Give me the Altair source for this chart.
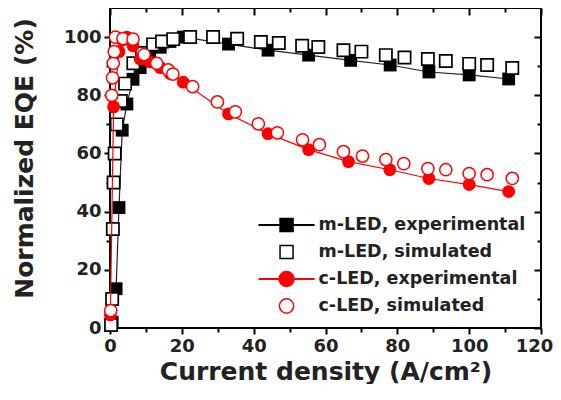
import altair as alt
import pandas as pd

# ---------------- data ----------------
m_exp_x = [0.6, 1.7, 2.5, 3.4, 4.7, 6.4, 8.4, 11.0, 14.0, 16.7, 20.4, 33.0, 44.0, 55.3, 67.0, 78.0, 88.8, 100.0, 111.0]
m_exp_y = [2.0, 13.5, 41.4, 68.0, 77.0, 85.5, 89.5, 93.0, 96.5, 98.5, 100.0, 97.6, 95.5, 93.8, 92.0, 90.4, 88.0, 87.0, 85.6]

m_sim_x = [0.3, 0.6, 0.8, 1.0, 1.3, 1.9, 3.0, 4.2, 6.5, 8.9, 12.0, 14.5, 17.6, 22.3, 28.7, 35.4, 42.0, 47.0, 53.5, 58.0, 65.0, 70.0, 76.8, 82.0, 88.5, 93.5, 100.0, 105.0, 112.0]
m_sim_y = [1.0, 10.0, 34.0, 50.0, 60.0, 70.0, 78.0, 84.0, 91.0, 94.5, 97.5, 98.5, 99.3, 100.0, 100.0, 99.4, 98.3, 98.0, 97.0, 96.6, 95.5, 95.0, 93.8, 93.0, 92.5, 91.8, 90.8, 90.4, 89.4]

c_exp_x = [0.1, 1.0, 2.5, 3.4, 4.7, 6.4, 8.4, 11.0, 14.0, 16.7, 20.4, 33.0, 44.0, 55.3, 66.4, 77.9, 88.8, 100.0, 111.0]
c_exp_y = [4.5, 76.0, 95.0, 99.0, 100.0, 97.0, 92.5, 91.5, 89.5, 87.5, 84.5, 73.6, 66.8, 61.3, 57.2, 54.4, 51.4, 49.3, 46.9]

c_sim_x = [0.2, 0.5, 0.7, 0.9, 1.2, 1.5, 3.6, 6.4, 9.5, 13.0, 16.2, 17.5, 23.0, 29.9, 34.9, 41.3, 46.6, 53.6, 58.3, 65.0, 70.3, 76.8, 81.8, 88.5, 93.5, 100.0, 105.0, 112.0]
c_sim_y = [6.0, 80.0, 86.0, 91.0, 95.0, 100.0, 99.5, 99.3, 94.0, 91.0, 88.7, 87.3, 83.0, 77.7, 74.3, 70.2, 67.1, 64.7, 63.0, 60.6, 59.1, 57.9, 56.5, 54.8, 54.4, 53.1, 52.7, 51.4]

series = ["m-LED, experimental", "m-LED, simulated", "c-LED, experimental", "c-LED, simulated"]

x_major = [0, 20, 40, 60, 80, 100, 120]
x_minor = [10, 30, 50, 70, 90, 110]
y_major = [0, 20, 40, 60, 80, 100]
y_minor = [10, 30, 50, 70, 90]

x_title = "Current density (A/cm\u00b2)"
y_title = "Normalized EQE (%)"

# ---------------- styling ----------------
FONT = "DejaVu Sans"
TXT = "#222222"
RED = "#ff0000"

def frame(xs, ys):
    return pd.DataFrame({"x": xs, "y": ys})

xscale = alt.Scale(domain=[0, 120], nice=False, zero=False)
yscale = alt.Scale(domain=[0, 110], nice=False, zero=False)

common_axis = dict(grid=False, domain=False, tickColor="black", tickWidth=2)
label_style = dict(labelFont=FONT, labelFontSize=18, labelFontWeight="bold", labelColor=TXT,
                   labelPadding=3, labelFlush=False)
title_style = dict(titleFont=FONT, titleFontSize=25, titleFontWeight="bold", titleColor=TXT)

def axis(**kw):
    d = dict(common_axis)
    d.update(kw)
    return alt.Axis(**d)

# bottom: labelled major (last label nudged inward to stay on the page), minor; top: inward ticks
ax_x_main = axis(orient="bottom", values=x_major[:-1], tickSize=6, titlePadding=24,
                 titleBaseline="alphabetic", **label_style, **title_style)
ax_x_last = axis(orient="bottom", values=x_major[-1:], tickSize=6, labelOffset=-7, **label_style)
ax_x_minor = axis(orient="bottom", values=x_minor, tickSize=4, labels=False)
ax_x_top = axis(orient="top", values=x_major, tickSize=7, offset=-7, labels=False)
ax_x_top_minor = axis(orient="top", values=x_minor, tickSize=4, offset=-4, labels=False)

ax_y_main = axis(orient="left", values=y_major, tickSize=6, titlePadding=26, titleY=150,
                 **label_style, **title_style)
ax_y_minor = axis(orient="left", values=y_minor, tickSize=4, labels=False)
ax_y_right = axis(orient="right", values=y_major, tickSize=7, offset=-7, labels=False)
ax_y_right_minor = axis(orient="right", values=y_minor, tickSize=4, offset=-4, labels=False)

def X(ax, title=None):
    return alt.X("x:Q", scale=xscale, axis=ax, title=title)

def Y(ax, title=None):
    return alt.Y("y:Q", scale=yscale, axis=ax, title=title)

# ---------------- layers ----------------
m_exp_line = alt.Chart(frame(m_exp_x, m_exp_y)).mark_line(color="#222222", strokeWidth=1.2).encode(
    x=X(ax_x_main, x_title), y=Y(ax_y_main, y_title))
m_exp_pts = alt.Chart(frame(m_exp_x, m_exp_y)).mark_point(
    shape="square", filled=True, color="black", size=165, opacity=1).encode(
    x=X(ax_x_minor), y=Y(ax_y_minor))
m_sim_pts = alt.Chart(frame(m_sim_x, m_sim_y)).mark_point(
    shape="square", filled=True, fill="white", stroke="black", strokeWidth=1.7, size=150, opacity=1).encode(
    x=X(ax_x_top), y=Y(ax_y_right))
c_exp_line = alt.Chart(frame(c_exp_x, c_exp_y)).mark_line(color=RED, strokeWidth=1.2).encode(
    x=X(ax_x_top_minor), y=Y(ax_y_right_minor))
c_exp_pts = alt.Chart(frame(c_exp_x, c_exp_y)).mark_point(
    shape="circle", filled=True, color=RED, size=165, opacity=1).encode(
    x=X(ax_x_last), y=Y(None))
c_sim_pts = alt.Chart(frame(c_sim_x, c_sim_y)).mark_point(
    shape="circle", filled=True, fill="white", stroke=RED, strokeWidth=1.5, size=150, opacity=1).encode(
    x=X(None), y=Y(None))

# legend-only layer (invisible points, visible legend symbols).
# Symbol paths: a line segment with the marker in its middle, kept at x >= -1 so that
# the legend entry clip does not cut them.
line_sq = "M-1,-0.03H7.4V0.03H-1Z M2.2,-1H4.2V1H2.2Z"
line_ci = "M-1,-0.03H7.4V0.03H-1Z M3.2,-1.15A1.15,1.15,0,1,1,3.2,1.15A1.15,1.15,0,1,1,3.2,-1.15Z"
open_sq = "M2.2,-1H4.2V1H2.2Z"
open_ci = "M3.2,-1.1A1.1,1.1,0,1,1,3.2,1.1A1.1,1.1,0,1,1,3.2,-1.1Z"

leg_df = pd.DataFrame({
    "series": series,
    "x": [m_exp_x[-1], m_sim_x[-1], c_exp_x[-1], c_sim_x[-1]],
    "y": [m_exp_y[-1], m_sim_y[-1], c_exp_y[-1], c_sim_y[-1]],
})

LEG = alt.Legend(title=None, orient="none", legendX=147, legendY=208, padding=0,
                 symbolSize=169, symbolStrokeWidth=1.5, symbolOpacity=1,
                 labelFont=FONT, labelFontSize=17.5, labelFontWeight="bold", labelColor=TXT,
                 labelOffset=44, labelLimit=400, rowPadding=9, clipHeight=18)

legend_layer = alt.Chart(leg_df).mark_point(size=169, opacity=0).encode(
    x=X(None), y=Y(None),
    shape=alt.Shape("series:N", scale=alt.Scale(domain=series, range=[line_sq, open_sq, line_ci, open_ci]), legend=LEG),
    fill=alt.Fill("series:N", scale=alt.Scale(domain=series, range=["black", "white", RED, "white"]), legend=LEG),
    stroke=alt.Stroke("series:N", scale=alt.Scale(domain=series, range=["black", "black", RED, RED]), legend=LEG),
)

chart = alt.layer(
    m_exp_line, m_exp_pts, m_sim_pts, c_exp_line, c_exp_pts, c_sim_pts, legend_layer
).resolve_axis(x="independent", y="independent").properties(
    width=431, height=320,
    autosize=alt.AutoSizeParams(type="none"),
    padding={"left": 102, "top": 0, "right": 12, "bottom": 56},
    background="white",
).configure_view(stroke="black", strokeWidth=2)

chart.save("out.html", embed_options={"renderer": "svg", "actions": False})
